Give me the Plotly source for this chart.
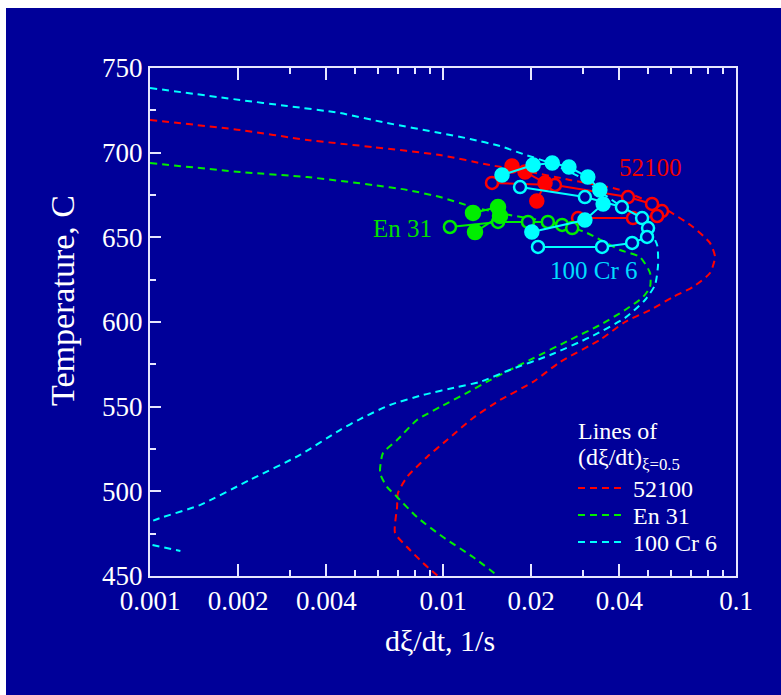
import plotly.graph_objects as go

# ---------------- data ----------------
# dashed curves: lines of (dxi/dt) at xi = 0.5
cr6_x = [0.001, 0.00203, 0.00294, 0.00445, 0.00644, 0.00977, 0.01237, 0.01565, 0.01875, 0.0232, 0.0293,
         0.0357, 0.0435, 0.0501, 0.0538, 0.0542, 0.0529, 0.0489, 0.0418, 0.0318, 0.0232,
         0.0169, 0.01337, 0.01116, 0.00855, 0.00659, 0.00521, 0.00445, 0.00325, 0.00219,
         0.00148, 0.00108, 0.001]
cr6_T = [738.2, 731.1, 727.6, 723.4, 717.5, 711.6, 708.1, 703.9, 699.2, 693.9, 685.6,
         675.0, 664.4, 655.5, 645.5, 633.7, 621.8, 613.0, 602.4, 591.1, 580.5,
         571.7, 564.6, 561.6, 556.9, 551.0, 542.7, 536.2, 521.5, 506.7,
         491.9, 484.2, 481.9]
cr6b_x = [0.00102, 0.00127]
cr6b_T = [468.3, 464.8]

r52100_x = [0.001, 0.00203, 0.00344, 0.00577, 0.00977, 0.01447, 0.0198, 0.0271, 0.0402, 0.0581,
            0.0713, 0.0815, 0.0848, 0.0815, 0.0713, 0.061, 0.0509, 0.0418, 0.0343, 0.0251,
            0.0203, 0.01565, 0.01266, 0.01032, 0.00882, 0.00754, 0.00702, 0.00697, 0.00686,
            0.00754, 0.00855, 0.00961]
r52100_T = [719.3, 713.4, 707.5, 703.3, 698.6, 692.7, 688.6, 683.9, 678.0, 666.1,
            656.1, 646.7, 638.4, 628.9, 620.7, 614.8, 607.1, 600.0, 589.4, 576.4,
            564.6, 553.9, 543.3, 530.3, 520.3, 508.5, 499.0, 490.7, 475.4,
            467.1, 457.7, 450.0]

en31_x = [0.001, 0.00203, 0.00344, 0.00577, 0.00754, 0.00977, 0.01266, 0.0169, 0.0251, 0.031,
          0.0402, 0.047, 0.0509, 0.0509, 0.0482, 0.0418, 0.0343, 0.0271, 0.0198, 0.01447,
          0.01207, 0.00977, 0.00815, 0.00697, 0.00624, 0.0061, 0.00644, 0.00697, 0.00815,
          0.01, 0.01266, 0.01541]
en31_T = [693.9, 688.6, 685.6, 680.9, 678.0, 673.8, 667.9, 663.2, 657.9, 652.6,
          642.5, 638.4, 628.9, 620.7, 614.8, 607.1, 598.2, 589.4, 577.6, 565.7,
          558.1, 549.8, 542.1, 530.3, 522.6, 510.8, 502.6, 496.7, 484.8,
          473.0, 461.2, 450.0]

# measured points (solid lines with markers)
red_fill_x = [0.0172, 0.01905, 0.0223, 0.0209]
red_fill_T = [692.1, 688.6, 682.1, 671.5]
red_open1_x = [0.0147, 0.0241, 0.0428, 0.0517, 0.0559]
red_open1_T = [682.1, 680.9, 673.8, 669.7, 665.5]
red_open2_x = [0.0289, 0.0445, 0.0538]
red_open2_T = [661.4, 661.4, 662.6]

green_fill_x = [0.01266, 0.01541, 0.01565, 0.01286]
green_fill_T = [664.4, 667.9, 662.6, 653.1]
green_open_x = [0.01056, 0.01541, 0.0195, 0.0228, 0.0255, 0.0276]
green_open_T = [656.1, 659.1, 659.1, 659.1, 657.3, 655.5]

cyan_fill_x = [0.0159, 0.0203, 0.0236, 0.0269, 0.0312, 0.0343, 0.0352, 0.0305, 0.0201]
cyan_fill_T = [686.8, 692.7, 693.9, 691.5, 685.6, 678.0, 669.7, 660.2, 653.1]
cyan_open_x = [0.01832, 0.0305, 0.0408, 0.0478, 0.0501, 0.0497, 0.0442, 0.0349, 0.0211]
cyan_open_T = [679.7, 673.8, 667.9, 661.4, 655.5, 650.2, 646.7, 644.3, 644.3]

x_tickvals = [0.001, 0.002, 0.004, 0.01, 0.02, 0.04, 0.1]
x_ticktext = ["0.001", "0.002", "0.004", "0.01", "0.02", "0.04", "0.1"]
x_minor = [0.003, 0.005, 0.006, 0.007, 0.008, 0.009, 0.03, 0.05, 0.06, 0.07, 0.08, 0.09]
y_tickvals = [450, 500, 550, 600, 650, 700, 750]
y_minor = [475, 525, 575, 625, 675, 725]

legend_names = ["52100", "En 31", "100 Cr 6"]

# ---------------- style ----------------
BG = "#000099"
RED = "#FF0000"
GREEN = "#00EE00"
CYAN = "#00FFFF"
AX = "#E6E6FF"
FONT = "Liberation Serif"
DASH = "7px,5px"

fig = go.Figure()

def dashed(x, y, color):
    fig.add_trace(go.Scatter(x=x, y=y, mode="lines", showlegend=False,
                             line=dict(color=color, width=2, dash=DASH, shape="spline", smoothing=0.6)))

dashed(r52100_x, r52100_T, RED)
dashed(en31_x, en31_T, GREEN)
dashed(cr6_x, cr6_T, CYAN)
dashed(cr6b_x, cr6b_T, CYAN)

def solid(x, y, color, filled, size=11):
    fig.add_trace(go.Scatter(
        x=x, y=y, mode="lines+markers", showlegend=False,
        line=dict(color=color, width=2),
        marker=dict(symbol="circle", size=size,
                    color=color if filled else BG,
                    line=dict(color=color, width=2.5))))

solid(red_open1_x, red_open1_T, RED, False, 12)
solid(red_open2_x, red_open2_T, RED, False, 12)
solid(red_fill_x, red_fill_T, RED, True, 13)
solid(green_open_x, green_open_T, GREEN, False, 12)
solid(green_fill_x, green_fill_T, GREEN, True, 14)
solid(cyan_open_x, cyan_open_T, CYAN, False, 12)
solid(cyan_fill_x, cyan_fill_T, CYAN, True, 13)

# plot area pixel geometry: left 150, right 736, top 68, bottom 576
L, R, T, B = 150, 736, 68, 576
W, H = R - L, B - T
def px(x):
    return (x - L) / W
def py(y):
    return (B - y) / H

shapes = [
    # white strips at top and left of the figure
    dict(type="rect", xref="paper", yref="paper", x0=px(-5), x1=px(6), y0=py(700), y1=py(-5),
         fillcolor="white", line=dict(width=0), layer="above"),
    dict(type="rect", xref="paper", yref="paper", x0=px(-5), x1=px(790), y0=py(8), y1=py(-5),
         fillcolor="white", line=dict(width=0), layer="above"),
]
leg_colors = [RED, GREEN, CYAN]
leg_y = [488, 515, 542]
for c, yy in zip(leg_colors, leg_y):
    shapes.append(dict(type="line", xref="paper", yref="paper", x0=px(578), x1=px(626),
                       y0=py(yy), y1=py(yy), line=dict(color=c, width=2, dash=DASH)))

def ann(text, x, y, size, color="white", xanchor="center", angle=0):
    return dict(text=text, x=px(x), y=py(y), xanchor=xanchor, yanchor="middle",
                textangle=angle, showarrow=False, xref="paper", yref="paper",
                font=dict(family=FONT, size=size, color=color))

annotations = [
    ann("Temperature, C", 62, 300, 34, angle=-90),
    ann("dξ/dt, 1/s", 440, 640, 30),
    ann("52100", 650, 167, 25, "#EE0000"),
    ann("En 31", 402, 228, 25, "#00DD00"),
    ann("100 Cr 6", 594, 270, 25, "#00DDFF"),
    ann("Lines of", 576, 431, 24, xanchor="left"),
    ann("(dξ/dt)<sub>ξ=0.5</sub>", 576, 459, 24, xanchor="left"),
]
for name, yy in zip(legend_names, leg_y):
    annotations.append(ann(name, 631, yy + 1, 24, xanchor="left"))

fig.update_layout(
    width=781, height=695,
    margin=dict(l=L, r=781 - R, t=T, b=695 - B, pad=0),
    paper_bgcolor=BG, plot_bgcolor=BG,
    showlegend=False,
    shapes=shapes, annotations=annotations,
    font=dict(family=FONT, size=27, color="white"),
    xaxis=dict(type="log", range=[-3, -1], tickvals=x_tickvals, ticktext=x_ticktext,
               ticks="inside", ticklen=12, tickwidth=2, tickcolor=AX,
               showline=True, linecolor=AX, linewidth=2, mirror="ticks",
               showgrid=False, zeroline=False,
               tickfont=dict(family=FONT, size=27, color="white"),
               minor=dict(tickvals=x_minor, ticks="inside", ticklen=6, tickwidth=2,
                          tickcolor=AX, showgrid=False)),
    yaxis=dict(range=[450, 750], tickvals=y_tickvals,
               ticks="inside", ticklen=11, tickwidth=2, tickcolor=AX,
               showline=True, linecolor=AX, linewidth=2, mirror=True,
               showgrid=False, zeroline=False,
               tickfont=dict(family=FONT, size=27, color="white"),
               minor=dict(tickvals=y_minor, ticks="inside", ticklen=6, tickwidth=2,
                          tickcolor=AX, showgrid=False)),
)

fig.write_html("out.html")
